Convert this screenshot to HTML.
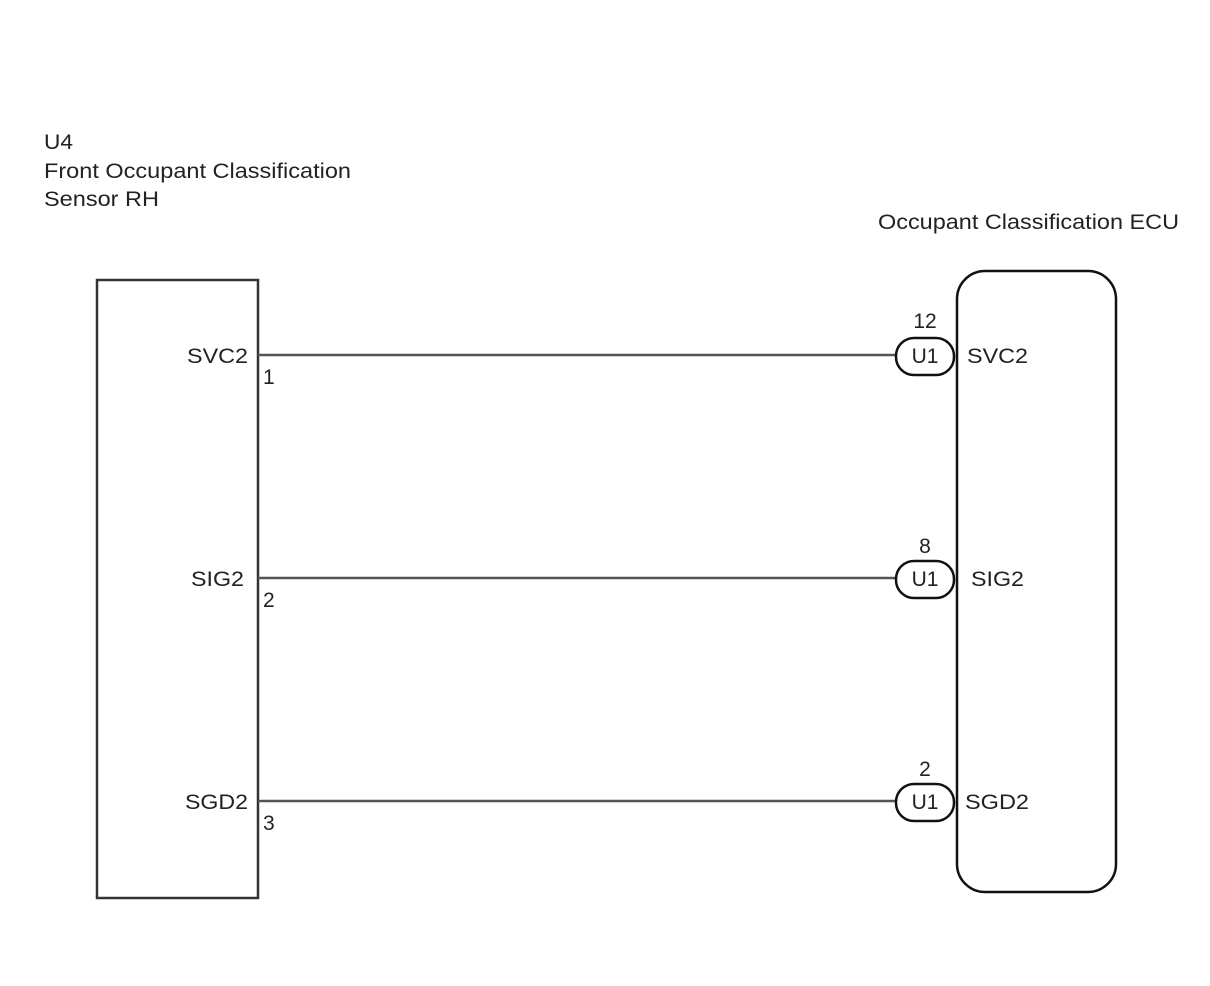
<!DOCTYPE html>
<html><head><style>
body{margin:0;background:#fff;}
svg{display:block;}
text{font-family:"Liberation Sans",Arial,sans-serif;font-size:21px;fill:#222;}
</style></head><body>
<svg width="1210" height="986" viewBox="0 0 1210 986">
<text x="44" y="149" textLength="29" lengthAdjust="spacingAndGlyphs">U4</text>
<text x="44" y="178" textLength="307" lengthAdjust="spacingAndGlyphs">Front Occupant Classification</text>
<text x="44" y="206" textLength="115" lengthAdjust="spacingAndGlyphs">Sensor RH</text>
<text x="878" y="229" textLength="301" lengthAdjust="spacingAndGlyphs">Occupant Classification ECU</text>
<rect x="97" y="280" width="161" height="618" fill="none" stroke="#333" stroke-width="2.5"/>
<rect x="957" y="271" width="159" height="621" rx="28" ry="28" fill="none" stroke="#111" stroke-width="2.5"/>
<g stroke="#555" stroke-width="2.5">
<line x1="258" y1="355" x2="896" y2="355"/>
<line x1="258" y1="578" x2="896" y2="578"/>
<line x1="258" y1="801" x2="896" y2="801"/>
</g>
<g fill="#fff" stroke="#111" stroke-width="2.5">
<rect x="896" y="338" width="58" height="37" rx="18"/>
<rect x="896" y="561" width="58" height="37" rx="18"/>
<rect x="896" y="784" width="58" height="37" rx="18"/>
</g>
<text x="187" y="363" textLength="61" lengthAdjust="spacingAndGlyphs">SVC2</text>
<text x="263" y="384">1</text>
<text x="191" y="586" textLength="53" lengthAdjust="spacingAndGlyphs">SIG2</text>
<text x="263" y="607">2</text>
<text x="185" y="809" textLength="63" lengthAdjust="spacingAndGlyphs">SGD2</text>
<text x="263" y="830">3</text>
<text x="925" y="328" text-anchor="middle">12</text>
<text x="925" y="363" text-anchor="middle">U1</text>
<text x="967" y="363" textLength="61" lengthAdjust="spacingAndGlyphs">SVC2</text>
<text x="925" y="553" text-anchor="middle">8</text>
<text x="925" y="586" text-anchor="middle">U1</text>
<text x="971" y="586" textLength="53" lengthAdjust="spacingAndGlyphs">SIG2</text>
<text x="925" y="776" text-anchor="middle">2</text>
<text x="925" y="809" text-anchor="middle">U1</text>
<text x="965" y="809" textLength="64" lengthAdjust="spacingAndGlyphs">SGD2</text>
</svg>
</body></html>
